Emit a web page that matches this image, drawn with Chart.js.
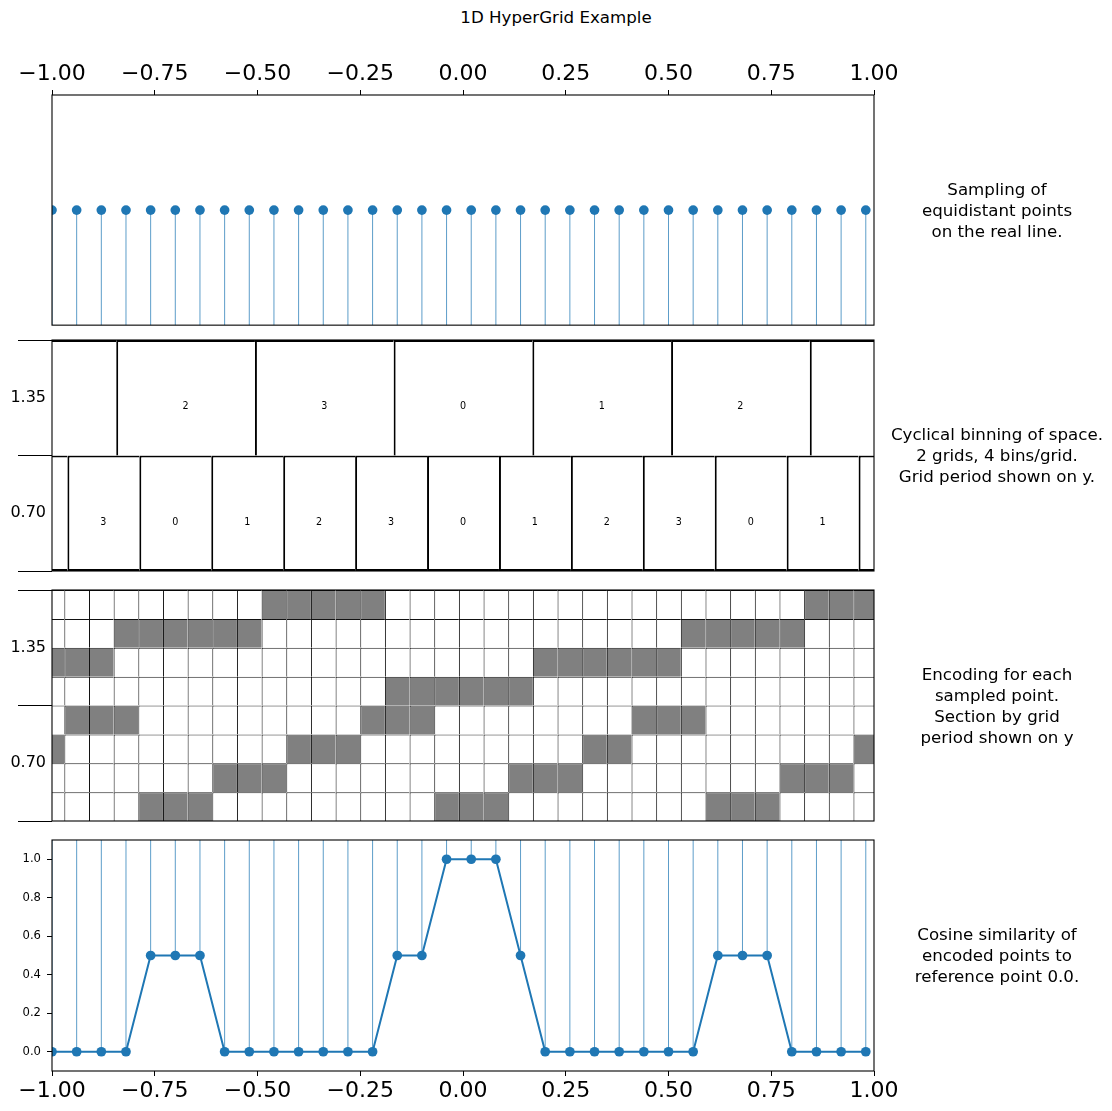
<!DOCTYPE html>
<html><head><meta charset="utf-8">
<script src="https://cdn.jsdelivr.net/npm/chart.js@4/dist/chart.umd.min.js"></script>
<style>
html,body{margin:0;padding:0;background:#fff;}
#wrap{position:relative;width:1112px;height:1111px;font-family:"DejaVu Sans",sans-serif;color:#000;overflow:hidden;}
canvas{position:absolute;left:0;}
.note{position:absolute;left:882px;width:230px;text-align:center;font-size:16.67px;line-height:21px;transform:translateY(-50%);white-space:nowrap;}
#title{position:absolute;left:0;width:1112px;top:8px;text-align:center;font-size:16.67px;line-height:20px;}
</style></head>
<body><div id="wrap">
<div id="title">1D HyperGrid Example</div>
<canvas id="c1" width="1112" height="330" style="top:0px"></canvas>
<canvas id="c2" width="1112" height="250" style="top:330px"></canvas>
<canvas id="c3" width="1112" height="250" style="top:580px"></canvas>
<canvas id="c4" width="1112" height="281" style="top:830px"></canvas>
<div class="note" style="top:210px">Sampling of<br>equidistant points<br>on the real line.</div>
<div class="note" style="top:455px">Cyclical binning of space.<br>2 grids, 4 bins/grid.<br>Grid period shown on y.</div>
<div class="note" style="top:706px">Encoding for each<br>sampled point.<br>Section by grid<br>period shown on y</div>
<div class="note" style="top:955px">Cosine similarity of<br>encoded points to<br>reference point 0.0.</div>
</div>
<script>
// ---- data ----
const xs = [-1.00,-0.94,-0.88,-0.82,-0.76,-0.70,-0.64,-0.58,-0.52,-0.46,-0.40,-0.34,-0.28,-0.22,-0.16,-0.10,-0.04,0.02,0.08,0.14,0.20,0.26,0.32,0.38,0.44,0.50,0.56,0.62,0.68,0.74,0.80,0.86,0.92,0.98];
const sampleLevel = 0.5;
const similarity = [0,0,0,0,0.5,0.5,0.5,0,0,0,0,0,0,0,0.5,0.5,1,1,1,0.5,0,0,0,0,0,0,0,0.5,0.5,0.5,0,0,0,0];
const bins135 = [1,1,1,2,2,2,2,2,2,3,3,3,3,3,0,0,0,0,0,0,1,1,1,1,1,1,2,2,2,2,2,3,3,3];
const bins070 = [2,3,3,3,0,0,0,1,1,1,2,2,2,3,3,3,0,0,0,1,1,1,2,2,3,3,3,0,0,0,1,1,1,2];
const periodLabels = ['1.35','0.70'];
const edges135 = [-1.18125,-0.84375,-0.50625,-0.16875,0.16875,0.50625,0.84375,1.18125];
const boxLabels135 = ['','2','3','0','1','2',''];
const edges070 = [-1.1375,-0.9625,-0.7875,-0.6125,-0.4375,-0.2625,-0.0875,0.0875,0.2625,0.4375,0.6125,0.7875,0.9625,1.1375];
const boxLabels070 = ['','3','0','1','2','3','0','1','2','3','0','1',''];
const rowKeys = ['g1b3','g1b2','g1b1','g1b0','g2b3','g2b2','g2b1','g2b0'];
const rowGrid = [0,0,0,0,1,1,1,1];
const rowBin = [3,2,1,0,3,2,1,0];
const xTickValues = [-1.00,-0.75,-0.50,-0.25,0.00,0.25,0.50,0.75,1.00];
const simTickValues = [0.0,0.2,0.4,0.6,0.8,1.0];

// ---- styles ----
const FONT = "'DejaVu Sans'";
const BLUE = '#1f77b4';
const VLINE = 'rgba(31,119,180,0.72)';
const GRAY = '#808080';
Chart.defaults.font.family = FONT;
Chart.defaults.color = '#000';

const fmt2 = v => (v < 0 ? '\u2212' : '') + Math.abs(v).toFixed(2);
const spines = {
  id: 'spines',
  afterDraw(chart) {
    const {ctx, chartArea: a} = chart;
    ctx.save();
    ctx.strokeStyle = '#000';
    ctx.lineWidth = 1.1;
    ctx.strokeRect(a.left, a.top, a.right - a.left, a.bottom - a.top);
    ctx.restore();
  }
};
const baseOpts = (padding) => ({
  responsive: false, animation: false, events: [], devicePixelRatio: 1,
  layout: {padding},
  plugins: {legend: {display: false}, tooltip: {enabled: false}}
});
const fitY = s => { s.width = 52; s.paddingTop = 0; s.paddingBottom = 0; };
const bigTickX = (position, fitHeight, pad) => ({
  type: 'linear', position, min: -1, max: 1, offset: false,
  afterBuildTicks: s => { s.ticks = xTickValues.map(v => ({value: v})); },
  afterFit: s => { s.height = fitHeight; s.paddingLeft = 0; s.paddingRight = 0; },
  grid: {drawOnChartArea: false, drawTicks: true, tickLength: 5, color: '#000', lineWidth: 1, offset: false},
  border: {display: false},
  ticks: {font: {family: FONT, size: 22}, color: '#000', padding: pad, maxRotation: 0, minRotation: 0, autoSkip: false, callback: fmt2}
});

// ---- panel 1: sampling ----
new Chart(document.getElementById('c1'), {
  type: 'scatter',
  data: {datasets: [
    {type: 'scatter', data: xs.map(x => ({x, y: sampleLevel})), pointRadius: 4.85, pointHoverRadius: 4.85,
     pointBackgroundColor: BLUE, pointBorderWidth: 0, clip: 0, order: 0},
    {type: 'bar', data: xs.map(x => ({x, y: [0, sampleLevel]})), barThickness: 1, backgroundColor: VLINE,
     borderWidth: 0, inflateAmount: 0, clip: 0, order: 1}
  ]},
  options: Object.assign(baseOpts({left: 52, right: 238, top: 0, bottom: 4}), {
    scales: {
      x: bigTickX('top', 95, 3),
      y: {type: 'linear', display: false, min: 0, max: 1}
    }
  }),
  plugins: [spines]
});

// ---- panel 2: cyclical binning ----
const boxText = {
  id: 'boxText',
  afterDatasetsDraw(chart) {
    const {ctx, chartArea: a} = chart;
    const xS = chart.scales.x, yS = chart.scales.y;
    ctx.save();
    ctx.beginPath(); ctx.rect(a.left, a.top, a.right - a.left, a.bottom - a.top); ctx.clip();
    ctx.font = "9.6px " + FONT; ctx.fillStyle = '#000'; ctx.textAlign = 'center'; ctx.textBaseline = 'middle';
    [[edges135, boxLabels135], [edges070, boxLabels070]].forEach(([edges, labels], row) => {
      const py = yS.getPixelForValue(row) + 9;
      labels.forEach((t, i) => {
        if (!t) return;
        ctx.fillText(t, xS.getPixelForValue((edges[i] + edges[i + 1]) / 2), py);
      });
    });
    ctx.restore();
  }
};
const boxes = (edges, lab) => edges.slice(0, -1).map((e, i) => ({x: [e, edges[i + 1]], y: lab}));
const boxStyle = (bottom) => ({backgroundColor: '#fff', borderColor: '#000',
  borderWidth: {left: 2, right: 0, top: 2, bottom: bottom}, borderSkipped: false,
  inflateAmount: 0, clip: 0, grouped: false, barPercentage: 1, categoryPercentage: 1});
const periodAxis = () => ({
  type: 'category', axis: 'y', position: 'left', labels: periodLabels, offset: true,
  afterFit: fitY,
  grid: {offset: true, drawOnChartArea: false, drawTicks: true, tickLength: 34, color: '#000', lineWidth: 1},
  border: {display: false},
  ticks: {font: {family: FONT, size: 16}, color: '#000', padding: -28}
});
new Chart(document.getElementById('c2'), {
  type: 'bar',
  data: {datasets: [
    Object.assign({data: boxes(edges135, periodLabels[0])}, boxStyle(0)),
    Object.assign({data: boxes(edges070, periodLabels[1])}, boxStyle(2))
  ]},
  options: Object.assign(baseOpts({left: 0, right: 238, top: 10, bottom: 9}), {
    indexAxis: 'y',
    scales: {
      x: {type: 'linear', display: false, min: -1, max: 1, offset: false},
      y: periodAxis()
    }
  }),
  plugins: [boxText, spines]
});

// ---- panel 3: encoding ----
const halfCell = (xs[1] - xs[0]) / 2;
const gridBins = [bins135, bins070];
new Chart(document.getElementById('c3'), {
  type: 'bar',
  data: {datasets: rowKeys.map((key, r) => ({
    yAxisID: 'yc',
    data: xs.map(x => ({x: [x - halfCell, x + halfCell], y: key})),
    backgroundColor: xs.map((x, k) => gridBins[rowGrid[r]][k] === rowBin[r] ? GRAY : '#fff'),
    borderColor: '#111', borderWidth: {left: 1, right: 0, top: 1, bottom: 0}, borderSkipped: false,
    inflateAmount: 0, clip: 0, grouped: false, barPercentage: 1, categoryPercentage: 1
  }))},
  options: Object.assign(baseOpts({left: 0, right: 238, top: 10, bottom: 9}), {
    indexAxis: 'y',
    scales: {
      x: {type: 'linear', display: false, min: -1, max: 1, offset: false},
      y: periodAxis(),
      yc: {type: 'category', axis: 'y', position: 'left', labels: rowKeys, display: false, offset: true}
    }
  }),
  plugins: [spines]
});

// ---- panel 4: cosine similarity ----
const simMin = -0.1, simMax = 1.1;
new Chart(document.getElementById('c4'), {
  type: 'scatter',
  data: {datasets: [
    {type: 'line', data: xs.map((x, i) => ({x, y: similarity[i]})), showLine: true, borderColor: BLUE, borderWidth: 2,
     pointRadius: 4.85, pointHoverRadius: 4.85, pointBackgroundColor: BLUE, pointBorderWidth: 0, fill: false,
     tension: 0, clip: 0, order: 0},
    {type: 'bar', data: xs.map((x, i) => ({x, y: [similarity[i], simMax]})), barThickness: 1, backgroundColor: VLINE,
     borderWidth: 0, inflateAmount: 0, clip: 0, order: 1}
  ]},
  options: Object.assign(baseOpts({left: 0, right: 238, top: 10, bottom: 0}), {
    scales: {
      x: bigTickX('bottom', 40, 2),
      y: {type: 'linear', min: simMin, max: simMax, offset: false,
          afterBuildTicks: s => { s.ticks = simTickValues.map(v => ({value: v})); },
          afterFit: fitY,
          grid: {drawOnChartArea: false, drawTicks: true, tickLength: 5, color: '#000', lineWidth: 1},
          border: {display: false},
          ticks: {font: {family: FONT, size: 11.6}, color: '#000', padding: 6, callback: v => v.toFixed(1)}}
    }
  }),
  plugins: [spines]
});
</script>
</body></html>
